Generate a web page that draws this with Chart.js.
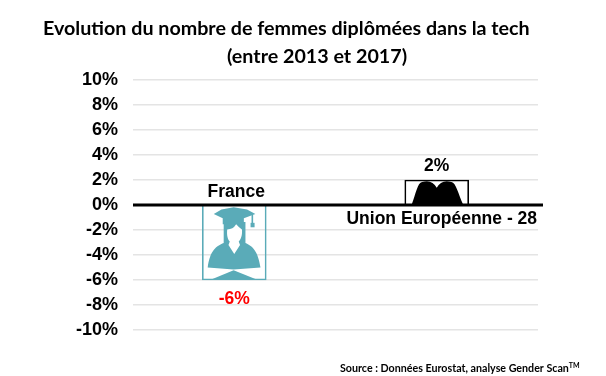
<!DOCTYPE html>
<html>
<head>
<meta charset="utf-8">
<script src="https://cdn.jsdelivr.net/npm/chart.js@4"></script>
<style>
  html, body { margin: 0; padding: 0; background: #fff; }
  #wrap { position: relative; width: 606px; height: 376px; }
</style>
</head>
<body>
<div id="wrap"><canvas id="chart" width="606" height="376"></canvas></div>
<script>
const categories = ["France", "Union Européenne - 28"];
const evolution = [-6, 2];
const value_labels = ["-6%", "2%"];
const value_colors = ["#ff0000", "#000000"];
const bar_borders = ["#5aabb8", "#000000"];
const title_lines = ["Evolution du nombre de femmes diplômées dans la tech", "(entre 2013 et 2017)"];
const source_text = "Source : Données Eurostat, analyse Gender Scan";

// femme diplomee, dessinee dans le rectangle de la barre (coord. 0-1 de la barre)
function draw_femme(ctx, bar, color) {
  const left = bar.x - bar.width / 2;
  const top = Math.min(bar.y, bar.base);
  const w = bar.width;
  const h = Math.abs(bar.base - bar.y);
  const px = (u) => left + u * w;
  const py = (v) => top + v * h;
  ctx.save();
  ctx.fillStyle = color;
  // toque
  ctx.beginPath();
  ctx.moveTo(px(0.18), py(0.11));
  ctx.lineTo(px(0.3), py(0.05));
  ctx.lineTo(px(0.49), py(0.02));
  ctx.lineTo(px(0.7), py(0.05));
  ctx.lineTo(px(0.83), py(0.11));
  ctx.lineTo(px(0.65), py(0.17));
  ctx.lineTo(px(0.65), py(0.25));
  ctx.lineTo(px(0.32), py(0.25));
  ctx.lineTo(px(0.32), py(0.17));
  ctx.closePath();
  ctx.fill();
  // pompon
  ctx.fillRect(px(0.77), py(0.12), 1.6, h * 0.12);
  ctx.fillRect(px(0.755), py(0.23), 4, h * 0.06);
  // cheveux et epaules
  ctx.beginPath();
  ctx.moveTo(px(0.335), py(0.22));
  ctx.lineTo(px(0.675), py(0.22));
  ctx.lineTo(px(0.675), py(0.5));
  ctx.bezierCurveTo(px(0.78), py(0.54), px(0.87), py(0.6), px(0.91), py(0.83));
  ctx.lineTo(px(0.49), py(0.86));
  ctx.lineTo(px(0.085), py(0.83));
  ctx.bezierCurveTo(px(0.12), py(0.6), px(0.22), py(0.54), px(0.335), py(0.5));
  ctx.closePath();
  ctx.fill();
  // visage
  ctx.fillStyle = "#ffffff";
  ctx.beginPath();
  ctx.moveTo(px(0.39), py(0.32));
  ctx.quadraticCurveTo(px(0.48), py(0.32), px(0.53), py(0.25));
  ctx.quadraticCurveTo(px(0.58), py(0.3), px(0.62), py(0.32));
  ctx.bezierCurveTo(px(0.63), py(0.4), px(0.6), py(0.46), px(0.57), py(0.48));
  ctx.lineTo(px(0.59), py(0.53));
  ctx.lineTo(px(0.5), py(0.65));
  ctx.lineTo(px(0.41), py(0.53));
  ctx.lineTo(px(0.43), py(0.48));
  ctx.bezierCurveTo(px(0.4), py(0.46), px(0.38), py(0.4), px(0.39), py(0.32));
  ctx.closePath();
  ctx.fill();
  // livre
  ctx.fillStyle = color;
  ctx.beginPath();
  ctx.moveTo(px(0.16), py(0.985));
  ctx.lineTo(px(0.49), py(0.87));
  ctx.lineTo(px(0.83), py(0.985));
  ctx.closePath();
  ctx.fill();
  ctx.restore();
}

// le haut du pictogramme noir: deux bosses collees a la base de la barre
function draw_bosses(ctx, bar, color) {
  const left = bar.x - bar.width / 2;
  const top = Math.min(bar.y, bar.base);
  const w = bar.width;
  const h = Math.abs(bar.base - bar.y);
  const px = (u) => left + u * w;
  const py = (v) => top + v * h;
  ctx.save();
  ctx.fillStyle = color;
  ctx.beginPath();
  ctx.moveTo(px(0.11), py(1));
  ctx.bezierCurveTo(px(0.17), py(0.6), px(0.2), py(0.1), px(0.27), py(0.08));
  ctx.bezierCurveTo(px(0.38), py(0), px(0.45), py(0.08), px(0.5), py(0.32));
  ctx.bezierCurveTo(px(0.55), py(0.08), px(0.62), py(0), px(0.73), py(0.08));
  ctx.bezierCurveTo(px(0.8), py(0.1), px(0.84), py(0.6), px(0.91), py(1));
  ctx.closePath();
  ctx.fill();
  ctx.restore();
}

const plugin_textes = {
  id: "textes",
  beforeDatasetsDraw(chart) {
    const ctx = chart.ctx;
    const meta = chart.getDatasetMeta(0);
    draw_femme(ctx, meta.data[0], bar_borders[0]);
    draw_bosses(ctx, meta.data[1], bar_borders[1]);
  },
  afterDatasetsDraw(chart) {
    const ctx = chart.ctx;
    const y = chart.scales.y;
    const meta = chart.getDatasetMeta(0);
    ctx.save();
    // ligne du zero
    ctx.strokeStyle = "#000000";
    ctx.lineWidth = 3;
    ctx.beginPath();
    ctx.moveTo(chart.chartArea.left, y.getPixelForValue(0));
    ctx.lineTo(chart.chartArea.right + 5, y.getPixelForValue(0));
    ctx.stroke();

    ctx.textAlign = "center";
    ctx.textBaseline = "middle";
    ctx.font = "bold 17.5px 'Liberation Sans'";
    ctx.fillStyle = "#000000";
    // noms des categories: France au-dessus de l'axe, UE en dessous
    ctx.fillText(categories[0], meta.data[0].x + 2, y.getPixelForValue(0) - 13);
    ctx.fillText(categories[1], meta.data[1].x + 5, y.getPixelForValue(0) + 14);
    // valeurs
    meta.data.forEach((bar, i) => {
      ctx.fillStyle = value_colors[i];
      const dy = evolution[i] < 0 ? 19 : -14;
      ctx.fillText(value_labels[i], bar.x, bar.y + dy);
    });

    // titre, les deux lignes ne sont pas centrees entre elles
    ctx.fillStyle = "#000000";
    ctx.font = "bold 19.7px Lato";
    ctx.textAlign = "left";
    ctx.textBaseline = "alphabetic";
    ctx.fillText(title_lines[0], 43, 35);
    ctx.fillText(title_lines[1], 227, 63);

    // source
    ctx.font = "bold 10.7px Lato";
    ctx.fillText(source_text, 340, 372);
    const w = ctx.measureText(source_text).width;
    ctx.font = "bold 7px Lato";
    ctx.fillText("TM", 340 + w, 368);
    ctx.restore();
  },
};

new Chart(document.getElementById("chart").getContext("2d"), {
  type: "bar",
  data: {
    labels: categories,
    datasets: [
      {
        data: evolution,
        backgroundColor: "rgba(0,0,0,0)",
        borderColor: bar_borders,
        borderWidth: 1,
        barThickness: 64,
      },
    ],
  },
  options: {
    responsive: false,
    animation: false,
    layout: { padding: { left: 0, right: 68, top: 80, bottom: 46 } },
    plugins: {
      legend: { display: false },
      title: { display: false },
      tooltip: { enabled: false },
    },
    scales: {
      x: {
        display: false,
      },
      y: {
        min: -10,
        max: 10,
        afterFit: (scale) => {
          scale.width = 133;
        },
        border: { display: false },
        grid: { color: "#e4e4e4", lineWidth: 1.5, drawTicks: false },
        ticks: {
          stepSize: 2,
          padding: 15,
          color: "#000000",
          font: { family: "Liberation Sans", size: 18, weight: "bold" },
          callback: (value) => value + "%",
        },
      },
    },
  },
  plugins: [plugin_textes],
});
</script>
</body>
</html>
